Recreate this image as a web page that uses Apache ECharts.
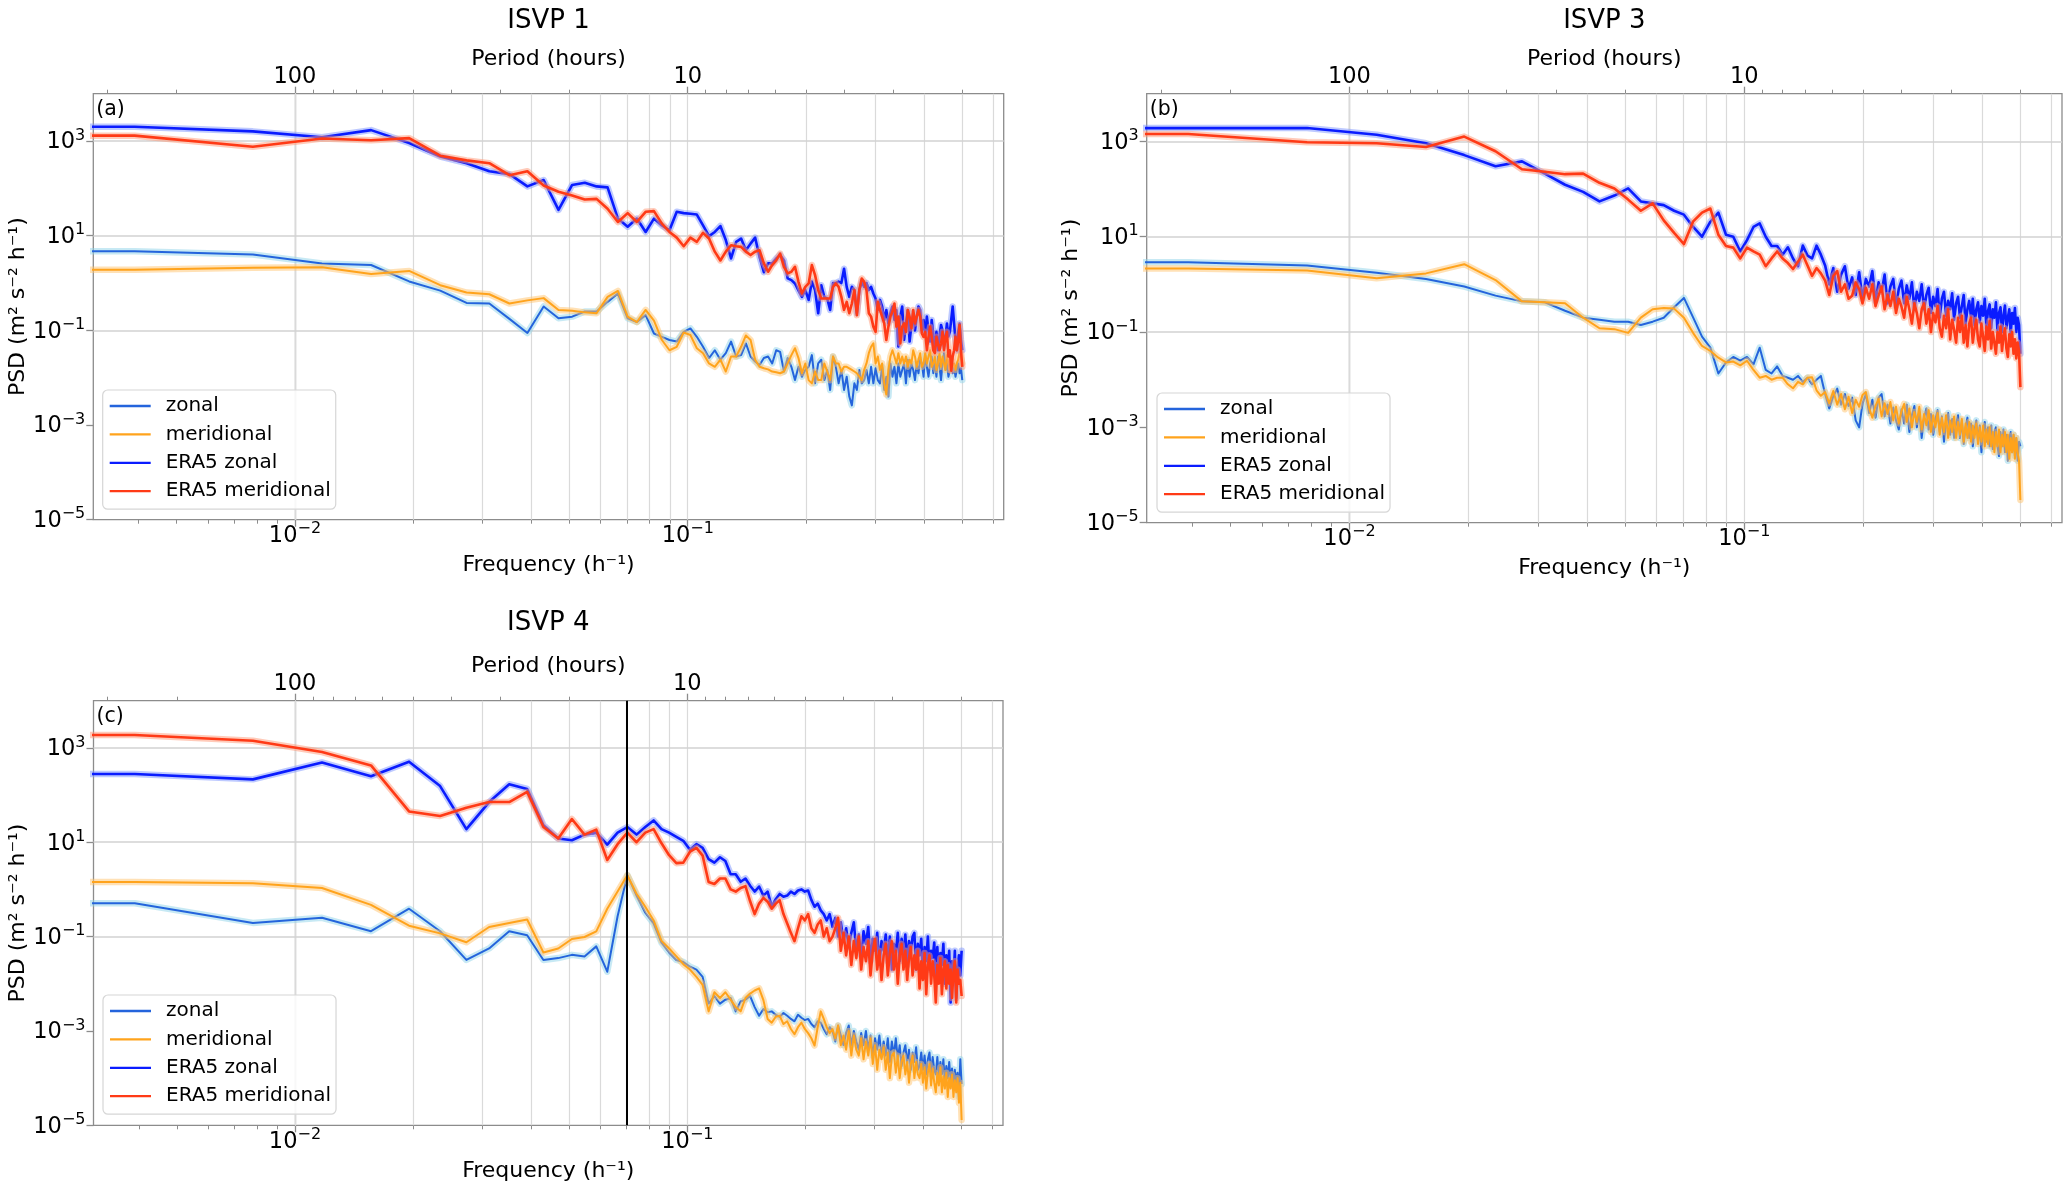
<!DOCTYPE html>
<html>
<head>
<meta charset="utf-8">
<script src="https://cdn.jsdelivr.net/npm/echarts@6/dist/echarts.min.js"></script>
<style>
html,body{margin:0;padding:0;background:#ffffff;}
#c{width:2067px;height:1185px;}
</style>
</head>
<body>
<div id="c"></div>
<script>
// ---------- axis / category data ----------
const DF = 1 / 256;            // Welch frequency resolution (h^-1), bins k = 1..128
const ZERO_BIN_F = 1e-4;       // the f = 0 bin: drawn off the log axis (clipped at left edge)
const INERTIAL_F = 0.0703;     // vertical marker in panel (c)
const X_MIN = 0.003066, X_MAX = 0.6374;
const Y_MIN = 1e-5, Y_MAX = 1e4;
const panelTitles = ['ISVP 1', 'ISVP 3', 'ISVP 4'];
const panelTags = ['(a)', '(b)', '(c)'];
const seriesNames = ['zonal', 'meridional', 'ERA5 zonal', 'ERA5 meridional'];
const xMajorTicks = [0.01, 0.1];
const xMinorTicks = [0.004, 0.005, 0.006, 0.007, 0.008, 0.009, 0.02, 0.03, 0.04, 0.05, 0.06, 0.07, 0.08, 0.09, 0.2, 0.3, 0.4, 0.5, 0.6];
const yMajorTicks = [1e-5, 1e-3, 1e-1, 1e1, 1e3];
const periodMinorTicks = [300, 200, 90, 80, 70, 60, 50, 40, 30, 20, 9, 8, 7, 6, 5, 4, 3, 2];

// ---------- PSD values (m^2 s^-2 h^-1), index 0 = f=0 bin, index k = k*DF ----------
const isvp1_zonal = [4.7, 4.7, 4.0, 2.6, 2.4, 1.08, 0.69, 0.38, 0.37, 0.175, 0.088, 0.32,
  0.18, 0.195, 0.25, 0.25, 0.40, 0.60, 0.18, 0.15, 0.21,
  0.086, 0.073, 0.0625, 0.058, 0.093, 0.11, 0.073, 0.045, 0.026, 0.038,
  0.024, 0.033, 0.058, 0.028, 0.030, 0.053, 0.028, 0.022, 0.0186, 0.026,
  0.028, 0.020, 0.038, 0.035, 0.0135, 0.026, 0.017, 0.0089, 0.017, 0.0105,
  0.0146, 0.017, 0.030, 0.0076, 0.020, 0.024, 0.0089, 0.0146, 0.0055, 0.028,
  0.017, 0.0076, 0.0146, 0.0055, 0.0105, 0.004, 0.0026, 0.0076, 0.0055, 0.0146,
  0.0076, 0.0089, 0.0146, 0.0076, 0.017, 0.0076, 0.0158, 0.0089, 0.0076, 0.017,
  0.0055, 0.0105, 0.004, 0.020, 0.0105, 0.017, 0.0076, 0.020, 0.0105, 0.0146,
  0.020, 0.0076, 0.024, 0.0105, 0.020, 0.0146, 0.0089, 0.020, 0.0124, 0.024,
  0.020, 0.0105, 0.030, 0.017, 0.0105, 0.020, 0.028, 0.0124, 0.020, 0.0105,
  0.028, 0.017, 0.0089, 0.020, 0.033, 0.0146, 0.020, 0.0105, 0.0146, 0.020,
  0.0124, 0.017, 0.0105, 0.0146, 0.020, 0.0124, 0.0158, 0.0089];
const isvp1_meridional = [1.9, 1.9, 2.1, 2.15, 1.55, 1.8, 0.9, 0.63, 0.58, 0.37, 0.43, 0.48,
  0.27, 0.26, 0.24, 0.23, 0.51, 0.68, 0.195, 0.15, 0.27,
  0.16, 0.0625, 0.038, 0.045, 0.09, 0.08, 0.042, 0.033, 0.020, 0.017,
  0.024, 0.0135, 0.028, 0.028, 0.045, 0.078, 0.0625, 0.024, 0.017, 0.0158,
  0.015, 0.0135, 0.013, 0.0124, 0.0135, 0.020, 0.030, 0.042, 0.026, 0.0124,
  0.020, 0.0089, 0.0076, 0.0135, 0.0089, 0.0089, 0.020, 0.0135, 0.0089, 0.028,
  0.020, 0.020, 0.0135, 0.017, 0.017, 0.0158, 0.0146, 0.0135, 0.0124, 0.0105,
  0.0089, 0.0146, 0.020, 0.033, 0.045, 0.053, 0.020, 0.028, 0.0146, 0.020,
  0.0076, 0.0044, 0.0146, 0.028, 0.038, 0.028, 0.020, 0.033, 0.020, 0.028,
  0.020, 0.028, 0.017, 0.024, 0.020, 0.038, 0.028, 0.017, 0.024, 0.033,
  0.017, 0.020, 0.033, 0.020, 0.028, 0.038, 0.017, 0.020, 0.028, 0.0146,
  0.020, 0.033, 0.017, 0.028, 0.020, 0.0146, 0.030, 0.020, 0.0146, 0.024,
  0.017, 0.020, 0.0146, 0.020, 0.024, 0.035, 0.033, 0.020];
const isvp1_era5_zonal = [2000, 2000, 1600, 1200, 1700, 910, 470, 340, 230, 200, 110, 150,
  35, 118, 131, 110, 105, 23, 15.5, 23, 12,
  23, 16.5, 13, 32, 30, 29, 28, 16.5, 9.8, 12,
  16, 8.1, 3.3, 7.4, 8.7, 4.9, 6.8, 9.1, 3.6, 1.7,
  2.6, 2.6, 3.3, 3.9, 3.0, 1.25, 1.15, 0.98, 0.7, 0.51,
  0.71, 0.44, 1.07, 0.71, 0.23, 0.9, 0.51, 0.47, 0.27, 1.0,
  1.0, 1.07, 1.0, 2.0, 0.83, 0.51, 0.83, 0.71, 0.23, 0.71,
  1.07, 0.83, 1.0, 0.71, 0.83, 0.6, 0.47, 0.27, 0.44, 0.32,
  0.166, 0.27, 0.14, 0.23, 0.32, 0.166, 0.27, 0.046, 0.195, 0.32,
  0.063, 0.14, 0.27, 0.058, 0.13, 0.23, 0.10, 0.195, 0.32, 0.27,
  0.10, 0.166, 0.079, 0.195, 0.10, 0.058, 0.166, 0.079, 0.045, 0.093,
  0.038, 0.074, 0.13, 0.10, 0.045, 0.074, 0.14, 0.074, 0.093, 0.10,
  0.32, 0.14, 0.063, 0.038, 0.093, 0.14, 0.063, 0.038];
const isvp1_era5_meridional = [1300, 1300, 760, 1130, 1040, 1150, 490, 390, 340, 190, 230, 115,
  85, 71, 58, 60, 37, 19.5, 30, 19.5, 32,
  33, 18, 12, 9.1, 6.0, 9.1, 7.4, 11.5, 8.7, 4.6,
  3.0, 4.6, 6.3, 6.0, 5.8, 4.6, 3.9, 4.6, 4.9, 2.6,
  1.73, 2.4, 3.0, 4.2, 2.2, 1.6, 1.73, 2.2, 1.06, 0.60,
  0.83, 0.98, 2.4, 1.47, 0.71, 0.47, 0.47, 0.47, 0.47, 0.83,
  0.98, 0.83, 0.51, 0.27, 0.40, 0.23, 0.37, 0.71, 0.21, 0.71,
  1.25, 1.06, 0.71, 0.23, 0.195, 0.12, 0.093, 0.40, 0.27, 0.195,
  0.14, 0.0625, 0.12, 0.195, 0.25, 0.37, 0.12, 0.195, 0.053, 0.12,
  0.14, 0.093, 0.27, 0.195, 0.11, 0.27, 0.14, 0.195, 0.27, 0.195,
  0.086, 0.073, 0.093, 0.038, 0.073, 0.12, 0.073, 0.038, 0.033, 0.073,
  0.073, 0.038, 0.053, 0.093, 0.038, 0.073, 0.093, 0.028, 0.038, 0.014,
  0.028, 0.038, 0.073, 0.038, 0.0625, 0.13, 0.038, 0.017];

const isvp3_zonal = [2.9, 2.9, 2.5, 1.75, 1.3, 0.9, 0.58, 0.44, 0.42, 0.28, 0.2,
  0.18, 0.165, 0.165, 0.14, 0.165, 0.2, 0.33, 0.52, 0.2, 0.08,
  0.047, 0.0135, 0.023, 0.03, 0.025, 0.03, 0.021, 0.047, 0.016, 0.0135,
  0.019, 0.012, 0.011, 0.01, 0.012, 0.009, 0.011, 0.008, 0.01, 0.012,
  0.005, 0.0025, 0.0045, 0.0065, 0.003, 0.005, 0.0028, 0.0042, 0.0014, 0.001,
  0.0032, 0.005, 0.002, 0.0038, 0.0016, 0.0042, 0.005, 0.0017, 0.003, 0.0012,
  0.0026, 0.0014, 0.0009, 0.0024, 0.0012, 0.003, 0.0008, 0.0018, 0.0028, 0.001,
  0.0022, 0.0006, 0.0016, 0.0025, 0.0009, 0.0019, 0.0007, 0.0015, 0.0023, 0.0008,
  0.0017, 0.0005, 0.0012, 0.002, 0.0007, 0.0015, 0.0006, 0.0012, 0.0018, 0.0006,
  0.0014, 0.00045, 0.001, 0.0016, 0.0006, 0.0012, 0.0004, 0.0009, 0.0014, 0.0005,
  0.0011, 0.0003, 0.0008, 0.0013, 0.0005, 0.001, 0.0004, 0.0011, 0.00035, 0.0008,
  0.001, 0.0004, 0.00025, 0.0008, 0.0004, 0.0009, 0.0003, 0.0007, 0.0002, 0.0006,
  0.0008, 0.0003, 0.0007, 0.00025, 0.0006, 0.0002, 0.0005, 0.0004];
const isvp3_meridional = [2.15, 2.15, 1.95, 1.35, 1.7, 2.65, 1.23, 0.44, 0.42, 0.4, 0.2,
  0.12, 0.115, 0.096, 0.2, 0.3, 0.32, 0.31, 0.2, 0.095, 0.051,
  0.04, 0.029, 0.023, 0.024, 0.02, 0.025, 0.016, 0.011, 0.012, 0.01,
  0.011, 0.011, 0.008, 0.0066, 0.009, 0.008, 0.011, 0.0112, 0.006, 0.0046,
  0.0055, 0.0032, 0.0058, 0.003, 0.005, 0.0024, 0.0044, 0.002, 0.0038, 0.0027,
  0.0048, 0.0055, 0.0025, 0.0016, 0.0028, 0.004, 0.0017, 0.0032, 0.0019, 0.0034,
  0.0014, 0.0027, 0.0012, 0.0022, 0.0031, 0.0013, 0.0025, 0.001, 0.0021, 0.0013,
  0.0027, 0.0009, 0.0019, 0.0011, 0.0023, 0.0008, 0.0018, 0.001, 0.002, 0.0007,
  0.0016, 0.0008, 0.0018, 0.0006, 0.0014, 0.0008, 0.0017, 0.0006, 0.0013, 0.0007,
  0.0015, 0.0005, 0.0012, 0.0006, 0.0013, 0.0005, 0.0011, 0.0006, 0.0012, 0.00045,
  0.001, 0.0005, 0.0011, 0.0004, 0.0009, 0.00045, 0.001, 0.0004, 0.0008, 0.0003,
  0.0008, 0.0004, 0.0009, 0.0003, 0.0007, 0.0004, 0.0008, 0.0003, 0.0007, 0.00022,
  0.0006, 0.0003, 0.0007, 0.00022, 0.0006, 0.0003, 0.0002, 0.00003];
const isvp3_era5_zonal = [1900, 1900, 1900, 1380, 910, 515, 300, 380, 210, 123, 87,
  55, 73, 103, 55, 50, 46, 35, 29, 16, 10,
  20.6, 32, 11, 10, 4.9, 8.5, 16, 19, 10, 6.4,
  6.4, 4.2, 6, 3.5, 2.4, 6.5, 4, 3.5, 6.5, 4.2,
  2.5, 1.0, 2.2, 0.7, 1.6, 2.4, 0.8, 1.4, 0.6, 1.8,
  0.5, 1.3, 0.9, 1.9, 0.45, 1.1, 0.7, 1.6, 0.4, 0.9,
  1.3, 0.35, 0.8, 1.2, 0.4, 0.95, 0.5, 1.1, 0.3, 0.7,
  0.45, 1.0, 0.3, 0.6, 0.85, 0.25, 0.55, 0.35, 0.8, 0.2,
  0.5, 0.7, 0.22, 0.45, 0.3, 0.65, 0.18, 0.4, 0.55, 0.2,
  0.35, 0.6, 0.15, 0.3, 0.45, 0.2, 0.5, 0.14, 0.3, 0.42,
  0.16, 0.35, 0.22, 0.5, 0.13, 0.28, 0.38, 0.12, 0.3, 0.2,
  0.42, 0.11, 0.25, 0.33, 0.1, 0.22, 0.36, 0.12, 0.2, 0.3,
  0.09, 0.25, 0.15, 0.32, 0.1, 0.2, 0.14, 0.035];
const isvp3_era5_meridional = [1430, 1430, 960, 910, 760, 1260, 620, 260, 230, 205, 210,
  135, 103, 60, 35, 50, 22, 12, 7, 21, 32,
  39, 11, 6.4, 5.9, 3.5, 5.9, 4.9, 4.2, 2.4, 3.5,
  4.9, 3.5, 2.8, 2.1, 3.0, 4.2, 2.5, 1.5, 2.2, 1.7,
  1.2, 0.6, 1.5, 1.9, 0.7, 1.0, 0.5, 0.58, 1.1, 0.8,
  0.4, 0.85, 0.5, 1.0, 0.35, 0.58, 0.9, 0.3, 0.6, 0.35,
  0.7, 0.25, 0.5, 0.34, 0.2, 0.55, 0.3, 0.15, 0.4, 0.25,
  0.12, 0.3, 0.4, 0.15, 0.3, 0.1, 0.25, 0.16, 0.35, 0.12,
  0.08, 0.22, 0.12, 0.3, 0.07, 0.18, 0.11, 0.06, 0.2, 0.1,
  0.22, 0.06, 0.14, 0.05, 0.15, 0.2, 0.06, 0.12, 0.18, 0.07,
  0.05, 0.15, 0.08, 0.04, 0.13, 0.07, 0.17, 0.045, 0.1, 0.06,
  0.035, 0.1, 0.06, 0.13, 0.04, 0.08, 0.12, 0.045, 0.03, 0.09,
  0.05, 0.1, 0.035, 0.07, 0.028, 0.06, 0.04, 0.007];

const isvp4_zonal = [0.51, 0.51, 0.195, 0.25, 0.13, 0.39, 0.13, 0.032, 0.056, 0.13, 0.107,
  0.032, 0.035, 0.041, 0.038, 0.062, 0.018, 0.27, 2.0, 0.74, 0.32,
  0.19, 0.074, 0.046, 0.032, 0.029, 0.023, 0.02, 0.014, 0.0038, 0.0055,
  0.0038, 0.0046, 0.005, 0.0026, 0.0042, 0.0046, 0.0055, 0.0032, 0.0021, 0.0029,
  0.0025, 0.0026, 0.0022, 0.002, 0.0024, 0.0021, 0.0018, 0.0016, 0.0022, 0.0019,
  0.0017, 0.0018, 0.0014, 0.0012, 0.0016, 0.0015, 0.0011, 0.00085, 0.0012, 0.001,
  0.0006, 0.0013, 0.0008, 0.0005, 0.0009, 0.0013, 0.0005, 0.001, 0.0006, 0.0004,
  0.0009, 0.0005, 0.001, 0.0004, 0.0008, 0.0003, 0.0007, 0.0004, 0.0008, 0.0003,
  0.0006, 0.0003, 0.0007, 0.00022, 0.0006, 0.0003, 0.0007, 0.00025, 0.0005, 0.00018,
  0.00035, 0.0005, 0.0002, 0.0004, 0.00015, 0.00035, 0.00022, 0.00045, 0.00015, 0.00018,
  0.00035, 0.00015, 0.0003, 0.00012, 0.00025, 0.00035, 0.00012, 0.00028, 0.00015, 0.00012,
  0.00028, 0.0001, 0.00022, 0.00012, 0.00025, 0.00008, 0.00018, 0.0001, 0.00022, 0.00009,
  0.00016, 0.00007, 0.00015, 0.00008, 0.00013, 0.00004, 0.00025, 0.000075];
const isvp4_meridional = [1.44, 1.44, 1.35, 1.07, 0.47, 0.17, 0.117, 0.076, 0.16, 0.195, 0.23,
  0.046, 0.056, 0.089, 0.098, 0.129, 0.39, 0.9, 2.0, 0.81, 0.43,
  0.22, 0.081, 0.056, 0.038, 0.026, 0.02, 0.014, 0.0095, 0.0026, 0.0066,
  0.005, 0.0066, 0.0046, 0.0032, 0.0026, 0.005, 0.0062, 0.0072, 0.008, 0.0045,
  0.0018, 0.0015, 0.002, 0.0021, 0.0014, 0.0016, 0.0011, 0.00085, 0.0012, 0.0015,
  0.0011, 0.0009, 0.0007, 0.00049, 0.0012, 0.0026, 0.0018, 0.0012, 0.0009, 0.0011,
  0.0007, 0.0013, 0.0005, 0.0008, 0.0004, 0.001, 0.0003, 0.0008, 0.0004, 0.0003,
  0.0007, 0.00025, 0.0006, 0.0003, 0.0007, 0.0002, 0.0005, 0.00015, 0.0004, 0.00025,
  0.00045, 0.00015, 0.00035, 0.0001, 0.0003, 0.00035, 0.00013, 0.0003, 0.0001, 0.00022,
  0.0003, 0.00012, 0.00022, 0.00008, 0.0002, 0.0003, 0.0001, 0.00022, 0.00012, 0.0001,
  0.0002, 0.00008, 0.00017, 0.00006, 0.00013, 0.0002, 0.00007, 0.00016, 0.00008, 0.00005,
  0.00013, 0.00007, 0.00017, 0.00005, 0.00011, 0.00006, 0.00013, 0.00004, 0.0001, 0.00006,
  0.00012, 0.00004, 0.00009, 0.00005, 0.0001, 0.00003, 0.00008, 0.000013];
const isvp4_era5_zonal = [280, 280, 215, 490, 250, 510, 155, 19, 71, 170, 135,
  23, 12, 11, 14.5, 16, 8.9, 16, 21, 14.5, 21,
  29, 19, 16, 13, 10.7, 6.9, 9.1, 7.6, 4.4, 3.7,
  4.8, 4.0, 2.1, 2.1, 1.45, 1.7, 1.2, 0.9, 1.15, 0.74,
  0.9, 0.43, 0.62, 0.8, 0.7, 0.74, 0.9, 0.8, 0.95, 1.0,
  0.9, 0.95, 0.6, 0.43, 0.5, 0.36, 0.3, 0.22, 0.3, 0.16,
  0.25, 0.1, 0.2, 0.08, 0.15, 0.06, 0.12, 0.2, 0.05, 0.11,
  0.04, 0.13, 0.07, 0.16, 0.03, 0.09, 0.05, 0.12, 0.025, 0.08,
  0.05, 0.11, 0.03, 0.1, 0.02, 0.07, 0.045, 0.12, 0.03, 0.09,
  0.04, 0.11, 0.025, 0.08, 0.05, 0.1, 0.12, 0.02, 0.07, 0.04,
  0.09, 0.015, 0.06, 0.03, 0.1, 0.02, 0.05, 0.035, 0.075, 0.015,
  0.06, 0.012, 0.045, 0.025, 0.07, 0.01, 0.04, 0.02, 0.05, 0.004,
  0.03, 0.012, 0.05, 0.005, 0.02, 0.04, 0.015, 0.05];
const isvp4_era5_meridional = [1870, 1870, 1420, 815, 425, 45, 36, 54, 71, 71, 117,
  21, 12, 31, 14.5, 18.5, 4.2, 9.1, 16, 10, 16,
  19, 9.5, 5.3, 3.6, 3.7, 6.3, 7.6, 5.2, 1.44, 1.3,
  1.7, 1.7, 1.0, 0.9, 1.07, 1.17, 0.56, 0.3, 0.5, 0.66,
  0.55, 0.39, 0.5, 0.59, 0.3, 0.19, 0.12, 0.08, 0.15, 0.27,
  0.22, 0.3, 0.15, 0.12, 0.18, 0.22, 0.1, 0.15, 0.08, 0.1,
  0.15, 0.25, 0.05, 0.12, 0.04, 0.1, 0.025, 0.08, 0.035, 0.1,
  0.02, 0.06, 0.03, 0.08, 0.015, 0.05, 0.09, 0.02, 0.05, 0.012,
  0.04, 0.07, 0.015, 0.045, 0.08, 0.02, 0.05, 0.01, 0.04, 0.07,
  0.02, 0.05, 0.012, 0.035, 0.06, 0.015, 0.04, 0.02, 0.05, 0.008,
  0.03, 0.012, 0.045, 0.006, 0.025, 0.04, 0.01, 0.03, 0.015, 0.004,
  0.025, 0.01, 0.035, 0.006, 0.02, 0.03, 0.008, 0.025, 0.01, 0.02,
  0.005, 0.018, 0.03, 0.004, 0.02, 0.01, 0.012, 0.0055];

const panelData = [
  [isvp1_zonal, isvp1_meridional, isvp1_era5_zonal, isvp1_era5_meridional],
  [isvp3_zonal, isvp3_meridional, isvp3_era5_zonal, isvp3_era5_meridional],
  [isvp4_zonal, isvp4_meridional, isvp4_era5_zonal, isvp4_era5_meridional]
];
const panelMarkers = [[], [], [INERTIAL_F]];

// ---------- layout & style (not data) ----------
const FONT = 'DejaVu Sans';
const layout = [
  { grid: { left: 93.3, top: 93.7, width: 910.4, height: 426 }, legend: { left: 102.7, top: 390 }, titleTop: 8 },
  { grid: { left: 1146.7, top: 93.7, width: 915.3, height: 429 }, legend: { left: 1157, top: 393 }, titleTop: 8.5 },
  { grid: { left: 93.5, top: 700.7, width: 909.5, height: 424.6 }, legend: { left: 103, top: 995 }, titleTop: 610 }
];
const lineStyles = [
  { color: '#2464dc', band: '#8fd4ea', width: 2.0 },
  { color: '#ffa31c', band: '#ffc46e', width: 2.0 },
  { color: '#0a1cff', band: '#7d95ff', width: 2.6 },
  { color: '#ff3a16', band: '#ff9776', width: 2.6 }
];
const AX_COLOR = '#8c8c8c';

const freqs = [ZERO_BIN_F];
for (let k = 1; k <= 128; k++) freqs.push(k * DF);

function supLabel(v, onlyOdd) {
  const e = Math.log10(v), r = Math.round(e);
  if (Math.abs(e - r) > 1e-6) return '';
  if (onlyOdd && Math.abs(r % 2) !== 1) return '';
  return '{b|10}{s|' + (r < 0 ? '\u2212' : '') + Math.abs(r) + '}';
}
function periodLabel(v) {
  const e = Math.log10(v), r = Math.round(e);
  if (Math.abs(e - r) > 1e-6) return '';
  return String(Math.round(1 / v));
}
const rich = {
  b: { fontFamily: FONT, fontSize: 22.5, color: '#000', lineHeight: 26, padding: [3, 0, 0, 0] },
  s: { fontFamily: FONT, fontSize: 16, color: '#000', lineHeight: 18, padding: [0, 0, 11, 0] }
};

const grids = [], xAxes = [], yAxes = [], series = [], legends = [], titles = [];

layout.forEach((L, p) => {
  const g = L.grid;
  grids.push(Object.assign({ show: true, borderColor: AX_COLOR, borderWidth: 1.3, backgroundColor: 'rgba(0,0,0,0)', containLabel: false, outerBoundsMode: 'none' }, g));
  const baseX = { type: 'log', logBase: 10, gridIndex: p, min: X_MIN, max: X_MAX, splitLine: { show: false }, axisLine: { show: false } };
  xAxes.push(Object.assign({}, baseX, {
    position: 'bottom',
    name: 'Frequency (h\u207B\u00B9)', nameLocation: 'middle', nameGap: 35,
    nameTextStyle: { fontFamily: FONT, fontSize: 22, color: '#000' },
    axisTick: { show: true, length: 7, customValues: xMajorTicks, lineStyle: { color: AX_COLOR, width: 1.3 } },
    axisLabel: { show: true, margin: 2, formatter: v => supLabel(v, false), rich: rich, showMinLabel: false, showMaxLabel: false }
  }));
  xAxes.push(Object.assign({}, baseX, {
    position: 'bottom',
    axisTick: { show: true, length: 4, customValues: xMinorTicks, lineStyle: { color: AX_COLOR, width: 1 } },
    axisLabel: { show: false }
  }));
  xAxes.push(Object.assign({}, baseX, {
    position: 'top',
    name: 'Period (hours)', nameLocation: 'middle', nameGap: 23.5, nameMoveOverlap: false,
    nameTextStyle: { fontFamily: FONT, fontSize: 22, color: '#000' },
    axisTick: { show: true, length: 7, customValues: xMajorTicks, lineStyle: { color: AX_COLOR, width: 1.3 } },
    axisLabel: { show: true, margin: 5, fontFamily: FONT, fontSize: 22.5, color: '#000', formatter: periodLabel, showMinLabel: false, showMaxLabel: false }
  }));
  xAxes.push(Object.assign({}, baseX, {
    position: 'top',
    axisTick: { show: true, length: 4, customValues: periodMinorTicks.map(h => 1 / h), lineStyle: { color: AX_COLOR, width: 1 } },
    axisLabel: { show: false }
  }));
  yAxes.push({
    type: 'log', logBase: 10, gridIndex: p, min: Y_MIN, max: Y_MAX, position: 'left',
    name: 'PSD (m\u00B2 s\u207B\u00B2 h\u207B\u00B9)', nameLocation: 'middle', nameGap: 63, nameRotate: 90,
    nameTextStyle: { fontFamily: FONT, fontSize: 22, color: '#000' },
    axisLine: { show: false }, splitLine: { show: false },
    axisTick: { show: true, length: 7, customValues: yMajorTicks, lineStyle: { color: AX_COLOR, width: 1.3 } },
    axisLabel: { show: true, margin: 8, formatter: v => supLabel(v, true), rich: rich, showMinLabel: true, showMaxLabel: false }
  });

  const xi = 4 * p;
  series.push({
    type: 'line', name: 'grid' + p, xAxisIndex: xi, yAxisIndex: p, data: [], silent: true, z: 1,
    markLine: {
      silent: true, symbol: ['none', 'none'], animation: false, z: 1, label: { show: false },
      lineStyle: { color: '#dadada', width: 1.2, type: 'solid' },
      emphasis: { disabled: true },
      data: xMajorTicks.concat(xMinorTicks).map(f => ({ xAxis: f }))
        .concat(yMajorTicks.slice(1).map(v => ({ yAxis: v, lineStyle: { color: '#d2d2d2', width: 1.6, type: 'solid' } })))
    }
  });

  panelData[p].forEach((vals, i) => {
    const st = lineStyles[i];
    const pts = vals.map((v, k) => [freqs[k], v]);
    series.push({
      type: 'line', name: seriesNames[i] + ' band', xAxisIndex: xi, yAxisIndex: p, data: pts,
      showSymbol: false, symbol: 'none', silent: true, z: 2 + 2 * i, animation: false,
      lineStyle: { color: st.band, width: 6.5, opacity: 0.5, join: 'round', cap: 'round' },
      emphasis: { disabled: true }
    });
    series.push({
      type: 'line', name: seriesNames[i], xAxisIndex: xi, yAxisIndex: p, data: pts,
      showSymbol: false, symbol: 'none', z: 3 + 2 * i, animation: false,
      lineStyle: { color: st.color, width: st.width, join: 'round' },
      itemStyle: { color: st.color },
      emphasis: { disabled: true }
    });
  });

  if (panelMarkers[p].length) {
    series.push({
      type: 'line', name: 'marker' + p, xAxisIndex: xi, yAxisIndex: p, data: [], silent: true, z: 20,
      markLine: {
        silent: true, symbol: ['none', 'none'], animation: false, z: 20, label: { show: false },
        lineStyle: { color: '#000', width: 2, type: 'solid' }, emphasis: { disabled: true },
        data: panelMarkers[p].map(f => ({ xAxis: f }))
      }
    });
  }

  legends.push({
    data: seriesNames, orient: 'vertical', left: L.legend.left, top: L.legend.top,
    icon: 'rect', itemWidth: 41, itemHeight: 2.3, itemGap: 8.4, padding: [6, 5, 8, 7],
    backgroundColor: 'rgba(255,255,255,0.8)', borderColor: '#d6d6d6', borderWidth: 1.2, borderRadius: 5,
    selectedMode: false,
    textStyle: { fontFamily: FONT, fontSize: 20, color: '#000', padding: [0, 0, 0, 10] }
  });

  titles.push({
    text: panelTitles[p], left: g.left + g.width / 2, top: L.titleTop, textAlign: 'center', padding: 0,
    textStyle: { fontFamily: FONT, fontSize: 26, fontWeight: 'normal', color: '#000' }
  });
  titles.push({
    text: panelTags[p], left: g.left + 3, top: g.top + 5, padding: 0,
    textStyle: { fontFamily: FONT, fontSize: 20.5, fontWeight: 'normal', color: '#000' }
  });
});

const chart = echarts.init(document.getElementById('c'), null, { renderer: 'canvas', width: 2067, height: 1185 });
chart.setOption({
  backgroundColor: '#ffffff',
  animation: false,
  title: titles,
  legend: legends,
  grid: grids,
  xAxis: xAxes,
  yAxis: yAxes,
  series: series
});
</script>
</body>
</html>
